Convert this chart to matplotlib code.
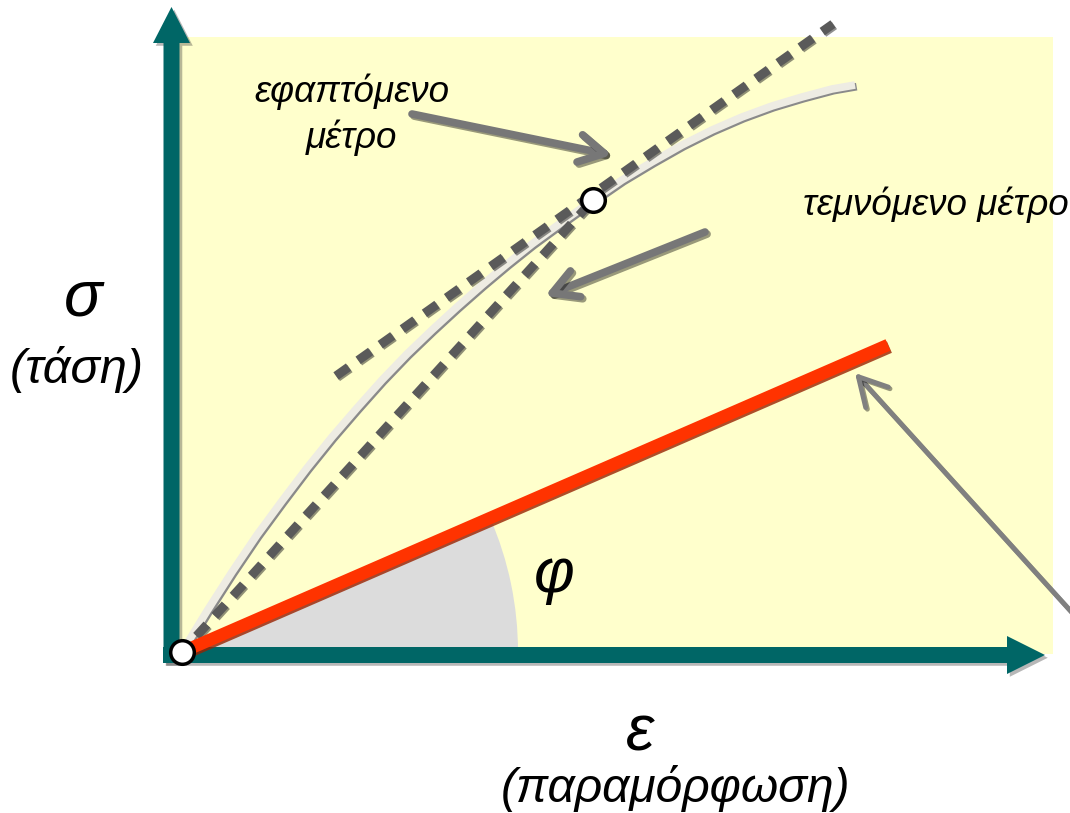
import matplotlib
matplotlib.use("Agg")
import matplotlib.pyplot as plt
import matplotlib.patches as mpatches
import matplotlib.patheffects as pe

# diagram coordinates: origin at the corner of the sigma-epsilon axes
curve_x = [0, 25, 50, 75, 100, 125, 150, 175, 200, 225, 250, 275, 300, 325, 350,
           380, 411, 440, 470, 500, 530, 560, 590, 620, 650, 673]
curve_y = [0, 41, 80, 117, 151, 184, 215, 244, 272, 298, 322, 345, 367, 388, 408,
           430, 452, 472, 490, 507, 522, 535, 546, 555, 563, 567]
point = (411, 452)
tangent_x = [154, 651]
tangent_y = [276, 628]
secant_x = [0, 411]
secant_y = [0, 452]
red_x = [0, 706]
red_y = [0, 307]
wedge_radius = 336
wedge_angle = 23.5

# (tail, tip) for the grey pointer arrows
pointers = [((230, 538), (430, 497)),
            ((523, 420), (363, 356)),
            ((903, 25), (673, 279))]

labels = [
    ("εφαπτόμενο", 170, 550, "center", 26.5),
    ("μέτρο", 170, 504, "center", 26.5),
    ("τεμνόμενο μέτρο", 621, 437, "left", 26.5),
    ("σ", -99, 337, "center", 46),
    ("(τάση)", -105, 269, "center", 35),
    ("ε", 458, -98, "center", 46),
    ("(παραμόρφωση)", 494, -150, "center", 34.5),
    ("φ", 372, 60, "center", 45),
]

TEAL = "#006666"
plt.rcParams["font.family"] = ["Liberation Sans", "DejaVu Sans"]

fig = plt.figure(figsize=(10.7, 8.13), dpi=100)
ax = fig.add_axes([0, 0, 1, 1])
ax.set_xlim(-182, 888)
ax.set_ylim(-161, 652)
ax.axis("off")

ax.add_patch(mpatches.Rectangle((-4, -2), 875, 617, color="#FFFFCC", lw=0, zorder=0))
ax.add_patch(mpatches.Wedge((0, 0), wedge_radius, 0, wedge_angle,
                            color="#DCDCDC", lw=0, zorder=1))

# axes arrows
shadow = [pe.SimplePatchShadow(offset=(2, -2), shadow_rgbFace="#333333", alpha=0.35),
          pe.Normal()]
ax.add_patch(mpatches.FancyArrow(-10.5, -11, 0, 656, width=16, head_width=37,
                                 head_length=36, length_includes_head=True,
                                 color=TEAL, lw=0, zorder=5, path_effects=shadow))
ax.add_patch(mpatches.FancyArrow(-19, -3, 882, 0, width=16, head_width=38,
                                 head_length=38, length_includes_head=True,
                                 color=TEAL, lw=0, zorder=5, path_effects=shadow))

# stress-strain curve
ax.plot(curve_x, curve_y, color="#EEECE3", lw=5.5, solid_capstyle="butt",
        solid_joinstyle="round", zorder=3,
        path_effects=[pe.SimpleLineShadow(offset=(1.2, -1.2), shadow_color="#8a8a8a", alpha=1),
                      pe.Normal()])

dash_fx = [pe.SimpleLineShadow(offset=(1, -1), shadow_color="#222222", alpha=0.5), pe.Normal()]
ax.plot(tangent_x, tangent_y, color="#5A5A5A", lw=6.5, ls=(0, (1.7, 1.3)), zorder=4,
        path_effects=dash_fx)
ax.plot(secant_x, secant_y, color="#5A5A5A", lw=6.5, ls=(0.6, (1.7, 1.3)), zorder=4,
        path_effects=dash_fx)

ax.plot(red_x, red_y, color="#FF3300", lw=9, solid_capstyle="butt", zorder=6,
        path_effects=[pe.SimpleLineShadow(offset=(1, -1.5), shadow_color="#992200", alpha=0.8),
                      pe.Normal()])

for tail, tip in pointers[:2]:
    ax.annotate("", xy=tip, xytext=tail, zorder=7,
                arrowprops=dict(arrowstyle="->,head_length=0.9,head_width=0.5",
                                mutation_scale=20, lw=5.5, color="#777777",
                                shrinkA=0, shrinkB=0,
                                path_effects=[pe.SimpleLineShadow(offset=(1.5, -1.5), alpha=0.4),
                                              pe.Normal()]))
tail, tip = pointers[2]
ax.annotate("", xy=tip, xytext=tail, zorder=7, annotation_clip=False,
            arrowprops=dict(arrowstyle="->,head_length=1.0,head_width=0.55",
                            mutation_scale=20, lw=3.5, color="#808080",
                            shrinkA=0, shrinkB=0,
                            path_effects=[pe.SimpleLineShadow(offset=(1.2, -1.2), alpha=0.4),
                                          pe.Normal()]))

ax.plot(*point, "o", ms=17, mfc="white", mec="black", mew=2.5, zorder=8)
ax.plot(0, 0, "o", ms=17, mfc="white", mec="black", mew=2.5, zorder=8)

for text, x, y, ha, size in labels:
    ax.text(x, y, text, ha=ha, va="baseline", fontsize=size, style="italic", zorder=9)

fig.savefig("out.png", dpi=100)
